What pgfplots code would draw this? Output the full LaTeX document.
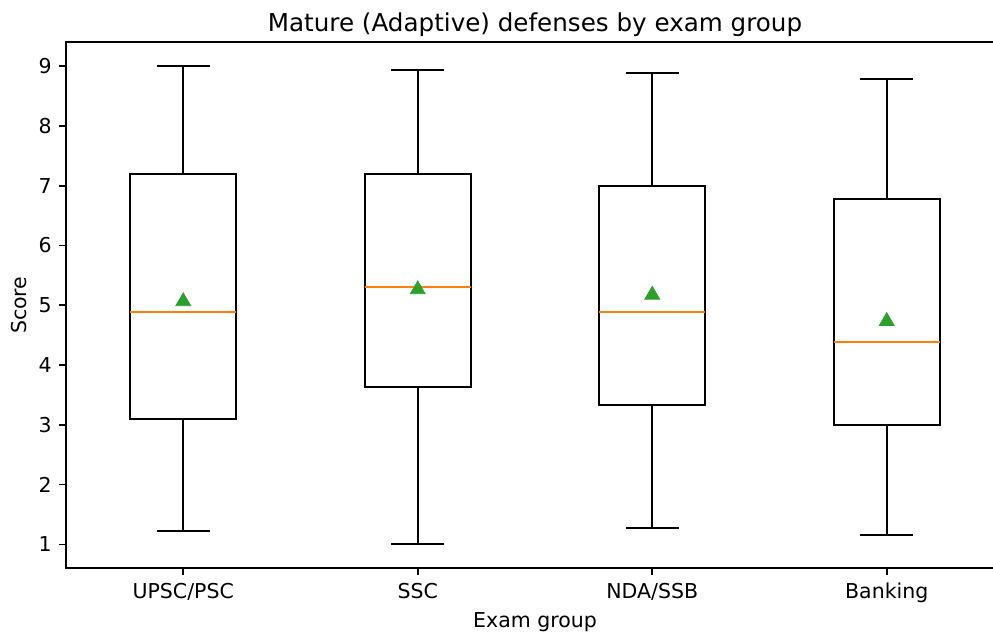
\documentclass[border=0pt]{standalone}
\usepackage{fontspec}
\setmainfont{DejaVu Sans}
\usepackage{pgfplots}
\pgfplotsset{compat=1.18}
\usepgfplotslibrary{statistics}
\definecolor{mplorange}{HTML}{FF7F0E}
\definecolor{mplgreen}{HTML}{2CA02C}
\begin{document}
\begin{tikzpicture}
\begin{axis}[
  at={(33pt,33.35pt)}, anchor=south west,
  scale only axis, width=469pt, height=263pt,
  xmin=0.5, xmax=4.5, ymin=0.6, ymax=9.4,
  axis line style={black, line width=0.8pt},
  xtick={1,2,3,4},
  xticklabels={UPSC/PSC,SSC,NDA/SSB,Banking},
  ytick={1,2,3,4,5,6,7,8,9},
  xtick pos=bottom, ytick pos=left,
  tick align=outside, major tick length=3.5pt,
  tick style={black, line width=0.8pt},
  /pgf/number format/assume math mode=true,
  ticklabel style={font=\fontsize{10.25}{12}\selectfont, inner sep=0pt},
  xticklabel style={anchor=base, yshift=-11.6pt},
  yticklabel style={anchor=east, xshift=-3.5pt},
  title={Mature (Adaptive) defenses by exam group},
  title style={font=\fontsize{12.3}{14}\selectfont, at={(axis description cs:0.5,0.997)}, anchor=base, inner sep=0pt},
  xlabel={Exam group},
  xlabel style={font=\fontsize{10.25}{12}\selectfont, at={(axis description cs:0.5,-0.1135)}, anchor=base, inner sep=0pt},
  ylabel={Score},
  ylabel style={font=\fontsize{10.25}{12}\selectfont, at={(axis description cs:-0.0416,0.5)}, anchor=base, inner sep=0pt},
  boxplot/draw direction=y,
  boxplot/box extend=0.45,
  boxplot/whisker extend=0.225,
  boxplot/every median/.style={mplorange, line width=1pt},
  clip=false,
]
\addplot[black, line width=1pt, solid, mark=none,
  boxplot prepared={draw position=1, lower whisker=1.22, lower quartile=3.10, median=4.886, upper quartile=7.20, upper whisker=9.00}]
  coordinates {};
\addplot[black, line width=1pt, solid, mark=none,
  boxplot prepared={draw position=2, lower whisker=1.00, lower quartile=3.64, median=5.30, upper quartile=7.20, upper whisker=8.94}]
  coordinates {};
\addplot[black, line width=1pt, solid, mark=none,
  boxplot prepared={draw position=3, lower whisker=1.28, lower quartile=3.33, median=4.886, upper quartile=7.00, upper whisker=8.89}]
  coordinates {};
\addplot[black, line width=1pt, solid, mark=none,
  boxplot prepared={draw position=4, lower whisker=1.16, lower quartile=3.00, median=4.39, upper quartile=6.77, upper whisker=8.78}]
  coordinates {};
\addplot[only marks, mark=triangle*, mark size=4.25pt, color=mplgreen, mark options={yshift=-1.06pt}]
  coordinates {(1,5.10) (2,5.30) (3,5.21) (4,4.77)};
\end{axis}
\pgfresetboundingbox
\useasboundingbox (0,0) rectangle (496.5pt,317.5pt);
\end{tikzpicture}
\end{document}
